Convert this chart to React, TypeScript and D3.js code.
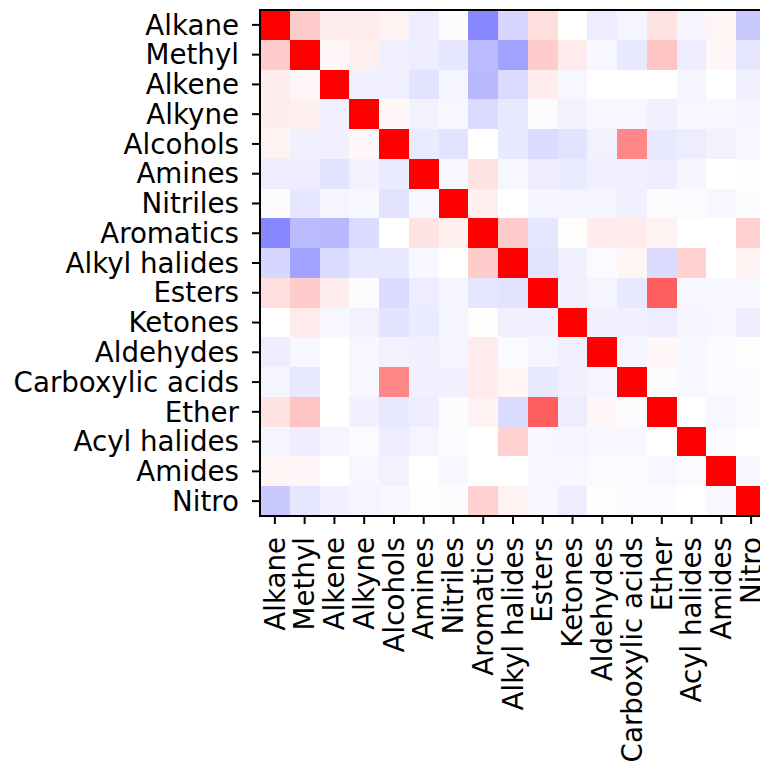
import React, { useEffect, useRef } from 'react';
import * as d3 from 'd3';

const groups = [
  'Alkane', 'Methyl', 'Alkene', 'Alkyne', 'Alcohols', 'Amines', 'Nitriles',
  'Aromatics', 'Alkyl halides', 'Esters', 'Ketones', 'Aldehydes',
  'Carboxylic acids', 'Ether', 'Acyl halides', 'Amides', 'Nitro',
];

// correlation rows, one per group (same order as groups)
const alkane = [1, 0.2, 0.07, 0.07, 0.05, -0.07, -0.01, -0.47, -0.16, 0.13, 0, -0.07, -0.04, 0.11, -0.04, 0.04, -0.21];
const methyl = [0.2, 1, 0.03, 0.06, -0.06, -0.07, -0.1, -0.27, -0.37, 0.2, 0.08, -0.03, -0.09, 0.23, -0.07, 0.03, -0.1];
const alkene = [0.07, 0.03, 1, -0.06, -0.06, -0.11, -0.04, -0.28, -0.14, 0.07, -0.03, 0, 0, 0, -0.04, 0, -0.06];
const alkyne = [0.07, 0.06, -0.06, 1, 0.03, -0.05, -0.03, -0.14, -0.09, -0.01, -0.05, -0.03, -0.03, -0.06, -0.03, -0.03, -0.04];
const alcohols = [0.05, -0.06, -0.06, 0.03, 1, -0.08, -0.11, 0, -0.09, -0.14, -0.11, -0.05, 0.47, -0.09, -0.07, -0.05, -0.03];
const amines = [-0.07, -0.07, -0.11, -0.05, -0.08, 1, -0.03, 0.11, -0.03, -0.07, -0.08, -0.06, -0.06, -0.07, -0.04, 0, 0.01];
const nitriles = [-0.01, -0.1, -0.04, -0.03, -0.11, -0.03, 1, 0.06, 0, -0.04, -0.04, -0.04, -0.06, -0.01, -0.02, -0.03, -0.01];
const aromatics = [-0.47, -0.27, -0.28, -0.14, 0, 0.11, 0.06, 1, 0.2, -0.1, 0.01, 0.08, 0.08, 0.05, 0, 0, 0.18];
const alkylHalides = [-0.16, -0.37, -0.14, -0.09, -0.09, -0.03, 0, 0.2, 1, -0.11, -0.06, -0.02, 0.04, -0.14, 0.18, 0, 0.05];
const esters = [0.13, 0.2, 0.07, -0.01, -0.14, -0.07, -0.04, -0.1, -0.11, 1, -0.06, -0.04, -0.09, 0.63, -0.03, -0.03, -0.03];
const ketones = [0, 0.08, -0.03, -0.05, -0.11, -0.08, -0.04, 0.01, -0.06, -0.06, 1, -0.06, -0.06, -0.07, -0.04, -0.03, -0.07];
const aldehydes = [-0.07, -0.03, 0, -0.03, -0.05, -0.06, -0.04, 0.08, -0.02, -0.04, -0.06, 1, -0.04, 0.03, -0.03, -0.02, 0.01];
const carboxylic = [-0.04, -0.09, 0, -0.03, 0.47, -0.06, -0.06, 0.08, 0.04, -0.09, -0.06, -0.04, 1, -0.01, -0.03, -0.02, -0.02];
const ether = [0.11, 0.23, 0, -0.06, -0.09, -0.07, -0.01, 0.05, -0.14, 0.63, -0.07, 0.03, -0.01, 1, 0, -0.03, -0.02];
const acylHalides = [-0.04, -0.07, -0.04, -0.02, -0.07, -0.04, -0.02, 0, 0.18, -0.03, -0.04, -0.03, -0.03, 0, 1, -0.02, 0];
const amides = [0.04, 0.03, 0, -0.03, -0.05, 0, -0.03, 0, 0, -0.03, -0.03, -0.02, -0.02, -0.03, -0.02, 1, -0.03];
const nitro = [-0.21, -0.1, -0.06, -0.04, -0.03, 0.01, -0.01, 0.18, 0.05, -0.03, -0.07, 0.01, -0.02, -0.02, 0, -0.03, 1];

const rows = [
  alkane, methyl, alkene, alkyne, alcohols, amines, nitriles, aromatics,
  alkylHalides, esters, ketones, aldehydes, carboxylic, ether, acylHalides,
  amides, nitro,
];

export default function App() {
  const ref = useRef<SVGSVGElement>(null);

  useEffect(() => {
    const width = 760;
    const height = 765;
    const left = 260;
    const top = 10;
    const size = 506;
    const font = 'DejaVu Sans, sans-serif';
    const fontSize = 27.7;

    const svg = d3.select(ref.current).attr('width', width).attr('height', height);
    svg.selectAll('*').remove();

    const x = d3.scaleBand().domain(groups).range([left, left + size]);
    const y = d3.scaleBand().domain(groups).range([top, top + size]);
    // matplotlib bwr
    const color = d3.scaleLinear<string>().domain([-1, 0, 1]).range(['#0000ff', '#ffffff', '#ff0000']);

    const cells = rows.flatMap((r, i) => r.map((v, j) => ({ row: groups[i], col: groups[j], v })));

    svg.append('g')
      .selectAll('rect')
      .data(cells)
      .enter()
      .append('rect')
      .attr('x', d => x(d.col)!)
      .attr('y', d => y(d.row)!)
      .attr('width', x.bandwidth() + 0.5)
      .attr('height', y.bandwidth() + 0.5)
      .attr('fill', d => color(d.v))
      .attr('shape-rendering', 'crispEdges');

    // frame
    svg.append('rect')
      .attr('x', left).attr('y', top)
      .attr('width', size).attr('height', size)
      .attr('fill', 'none').attr('stroke', '#000').attr('stroke-width', 2);

    const half = x.bandwidth() / 2;

    // y ticks + labels
    const gy = svg.append('g');
    gy.selectAll('line')
      .data(groups).enter().append('line')
      .attr('x1', left - 8).attr('x2', left)
      .attr('y1', d => y(d)! + half).attr('y2', d => y(d)! + half)
      .attr('stroke', '#000').attr('stroke-width', 2);
    gy.selectAll('text')
      .data(groups).enter().append('text')
      .attr('x', left - 21)
      .attr('y', d => y(d)! + half)
      .attr('dy', '0.35em')
      .attr('text-anchor', 'end')
      .attr('font-family', font)
      .attr('font-size', fontSize)
      .text(d => d);

    // x ticks + labels
    const gx = svg.append('g');
    gx.selectAll('line')
      .data(groups).enter().append('line')
      .attr('y1', top + size).attr('y2', top + size + 8)
      .attr('x1', d => x(d)! + half).attr('x2', d => x(d)! + half)
      .attr('stroke', '#000').attr('stroke-width', 2);
    gx.selectAll('text')
      .data(groups).enter().append('text')
      .attr('transform', d => `translate(${x(d)! + half},${top + size + 21}) rotate(-90)`)
      .attr('dy', '0.35em')
      .attr('text-anchor', 'end')
      .attr('font-family', font)
      .attr('font-size', fontSize)
      .text(d => d);
  }, []);

  return (
    <svg ref={ref} style={{ position: 'absolute', left: 0, top: 0, overflow: 'hidden' }} />
  );
}
